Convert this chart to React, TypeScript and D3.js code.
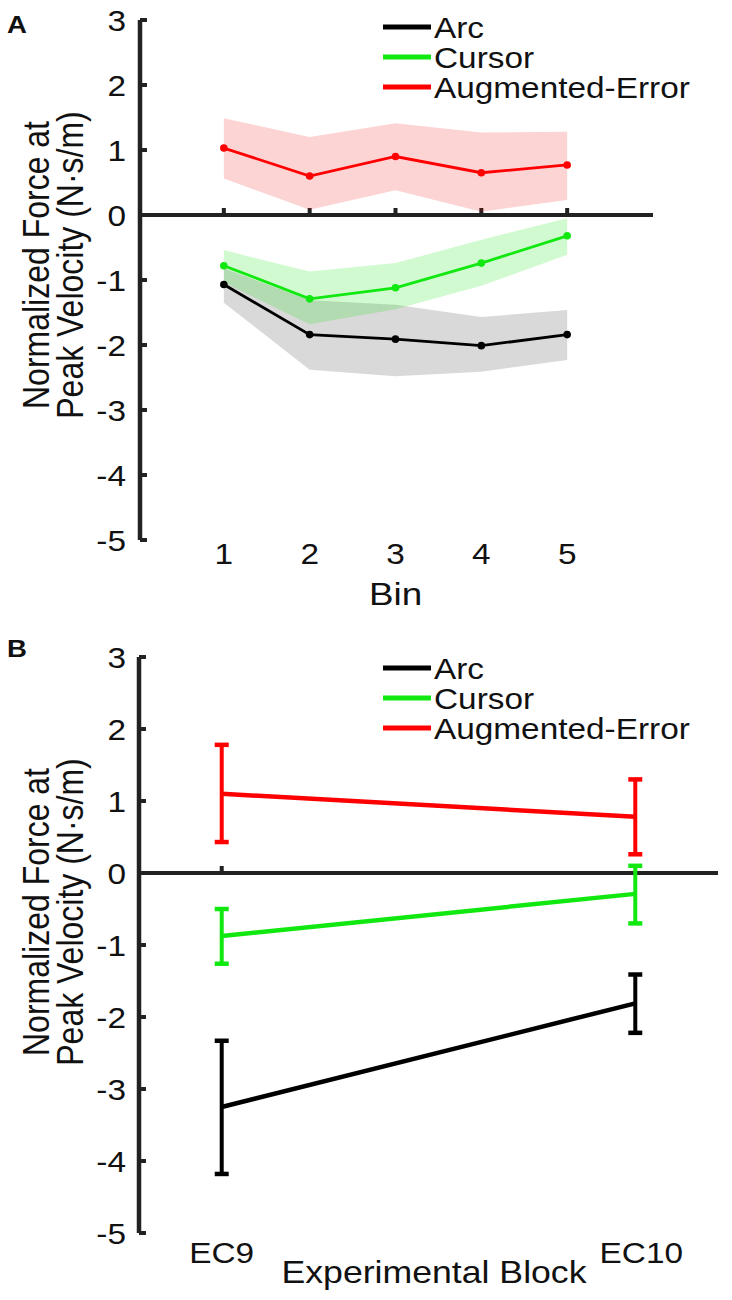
import * as d3 from "d3";

// panel A: force per bin (mean and shaded band)
const bins = [1, 2, 3, 4, 5];
const arcMean = [-1.07, -1.84, -1.91, -2.01, -1.84];
const arcHigh = [-0.82, -1.31, -1.38, -1.57, -1.46];
const arcLow = [-1.35, -2.38, -2.48, -2.41, -2.23];
const cursorMean = [-0.78, -1.29, -1.12, -0.74, -0.32];
const cursorHigh = [-0.54, -0.87, -0.74, -0.38, -0.05];
const cursorLow = [-1.04, -1.68, -1.45, -1.09, -0.61];
const augMean = [1.03, 0.6, 0.9, 0.65, 0.77];
const augHigh = [1.49, 1.2, 1.41, 1.27, 1.28];
const augLow = [0.56, 0.08, 0.38, 0.05, 0.23];

// panel B: force per experimental block (mean and error bar ends)
const blocks = ["EC9", "EC10"];
const blockPos = [1, 2];
const arcB = [-3.25, -1.81];
const arcBHigh = [-2.33, -1.41];
const arcBLow = [-4.18, -2.22];
const cursorB = [-0.875, -0.29];
const cursorBHigh = [-0.5, 0.1];
const cursorBLow = [-1.26, -0.7];
const augB = [1.1, 0.78];
const augBHigh = [1.78, 1.3];
const augBLow = [0.43, 0.26];

const yTicks = [-5, -4, -3, -2, -1, 0, 1, 2, 3];
const legendNames = ["Arc", "Cursor", "Augmented-Error"];
const yLabelLines = ["Normalized Force at", "Peak Velocity (N\u00b7s/m)"];

const AXIS = "#222";
const BLACK = "#000";
const GREEN = "#10e810";
const RED = "#f00";
const FONT = "'Liberation Sans', Arial, Helvetica, sans-serif";
const STRETCH = 1.15;

type TxtProps = {
  x: number;
  y: number;
  size: number;
  anchor?: "start" | "middle" | "end";
  rotate?: boolean;
  bold?: boolean;
  children: string;
};

// the original figure is a bit wider than tall, so text gets stretched sideways
const Txt = ({ x, y, size, anchor = "start", rotate = false, bold = false, children }: TxtProps) => (
  <text
    transform={`translate(${x},${y}) scale(${STRETCH},1)${rotate ? " rotate(-90)" : ""}`}
    fontSize={size}
    fontFamily={FONT}
    fontWeight={bold ? "bold" : "normal"}
    textAnchor={anchor}
    fill="#111"
  >
    {children}
  </text>
);

type PanelFrame = {
  y: d3.ScaleLinear<number, number>;
  axisX: number;
  xEnd: number;
  labelCenter: number;
};

const Frame = ({ y, axisX, xEnd, labelCenter }: PanelFrame) => (
  <g>
    <line x1={axisX} x2={axisX} y1={y(3)} y2={y(-5)} stroke={AXIS} strokeWidth={4.5} />
    {yTicks.map((t) => (
      <g key={t}>
        <line x1={axisX} x2={axisX + 7} y1={y(t)} y2={y(t)} stroke={AXIS} strokeWidth={4} />
        <Txt x={126} y={y(t) + 10.5} size={29} anchor="end">
          {String(t)}
        </Txt>
      </g>
    ))}
    <line x1={axisX} x2={xEnd} y1={y(0)} y2={y(0)} stroke={AXIS} strokeWidth={4} />
    {yLabelLines.map((l, i) => (
      <Txt key={l} x={49 + i * 34} y={labelCenter} size={32} anchor="middle" rotate>
        {l}
      </Txt>
    ))}
  </g>
);

const Legend = ({ top }: { top: number }) => {
  const colors = [BLACK, GREEN, RED];
  return (
    <g>
      {legendNames.map((n, i) => {
        const ly = top + i * 30;
        return (
          <g key={n}>
            <line x1={383} x2={431} y1={ly} y2={ly} stroke={colors[i]} strokeWidth={5} />
            <Txt x={434} y={ly + 10.5} size={29}>
              {n}
            </Txt>
          </g>
        );
      })}
    </g>
  );
};

export default function App() {
  // panel A scales
  const xA = d3.scaleLinear().domain([0, 6]).range([138, 653]);
  const yA = d3.scaleLinear().domain([-5, 3]).range([540, 20]);

  // panel B scales
  const xB = d3.scaleLinear().domain([0.8, 2.2]).range([139, 718]);
  const yB = d3.scaleLinear().domain([-5, 3]).range([1233, 657]);

  const seriesA = [
    { mean: arcMean, lo: arcLow, hi: arcHigh, color: BLACK, band: "rgba(0,0,0,0.15)" },
    { mean: cursorMean, lo: cursorLow, hi: cursorHigh, color: GREEN, band: "rgba(0,230,0,0.18)" },
    { mean: augMean, lo: augLow, hi: augHigh, color: RED, band: "rgba(245,0,0,0.17)" },
  ];

  const lineA = d3
    .line<number>()
    .x((_, i) => xA(bins[i]))
    .y((d) => yA(d));

  const bandA = (lo: number[], hi: number[]) =>
    d3
      .area<number>()
      .x((_, i) => xA(bins[i]))
      .y0((_, i) => yA(lo[i]))
      .y1((d) => yA(d))(hi) as string;

  const seriesB = [
    { mean: arcB, lo: arcBLow, hi: arcBHigh, color: BLACK },
    { mean: cursorB, lo: cursorBLow, hi: cursorBHigh, color: GREEN },
    { mean: augB, lo: augBLow, hi: augBHigh, color: RED },
  ];

  const lineB = d3
    .line<number>()
    .x((_, i) => xB(blockPos[i]))
    .y((d) => yB(d));

  return (
    <div style={{ position: "absolute", left: 0, top: 0 }}>
      <svg width={732} height={1300} style={{ display: "block", background: "#fff" }}>
        {/* ---------- A ---------- */}
        <Txt x={7} y={33} size={24} bold>
          A
        </Txt>
        <Frame y={yA} axisX={140} xEnd={xA(6)} labelCenter={265} />
        {bins.map((b) => (
          <line key={b} x1={xA(b)} x2={xA(b)} y1={yA(0)} y2={yA(0) - 7} stroke={AXIS} strokeWidth={4} />
        ))}
        {bins.map((b) => (
          <Txt key={b} x={xA(b)} y={564} size={29} anchor="middle">
            {String(b)}
          </Txt>
        ))}
        <Txt x={xA(3)} y={605} size={32} anchor="middle">
          Bin
        </Txt>
        {seriesA.map((s, i) => (
          <path key={i} d={bandA(s.lo, s.hi)} fill={s.band} stroke="none" />
        ))}
        {seriesA.map((s, i) => (
          <g key={i}>
            <path d={lineA(s.mean) as string} fill="none" stroke={s.color} strokeWidth={2.8} />
            {s.mean.map((v, j) => (
              <circle key={j} cx={xA(bins[j])} cy={yA(v)} r={3.8} fill={s.color} />
            ))}
          </g>
        ))}
        <Legend top={27} />

        {/* ---------- B ---------- */}
        <Txt x={7} y={657} size={24} bold>
          B
        </Txt>
        <Frame y={yB} axisX={139} xEnd={718} labelCenter={912} />
        <line x1={xB(1)} x2={xB(1)} y1={yB(0)} y2={yB(0) - 7} stroke={AXIS} strokeWidth={4} />
        {blocks.map((b, i) => (
          <Txt key={b} x={xB(blockPos[i]) + (i === 1 ? 6 : 0)} y={1263} size={29} anchor="middle">
            {b}
          </Txt>
        ))}
        <Txt x={434} y={1283} size={31} anchor="middle">
          Experimental Block
        </Txt>
        {seriesB.map((s, i) => (
          <g key={i}>
            <path d={lineB(s.mean) as string} fill="none" stroke={s.color} strokeWidth={4.5} />
            {s.mean.map((_, j) => {
              const cx = xB(blockPos[j]);
              return (
                <g key={j}>
                  <line x1={cx} x2={cx} y1={yB(s.lo[j])} y2={yB(s.hi[j])} stroke={s.color} strokeWidth={4} />
                  <line x1={cx - 7} x2={cx + 7} y1={yB(s.lo[j])} y2={yB(s.lo[j])} stroke={s.color} strokeWidth={4.5} />
                  <line x1={cx - 7} x2={cx + 7} y1={yB(s.hi[j])} y2={yB(s.hi[j])} stroke={s.color} strokeWidth={4.5} />
                </g>
              );
            })}
          </g>
        ))}
        <Legend top={668} />
      </svg>
    </div>
  );
}
